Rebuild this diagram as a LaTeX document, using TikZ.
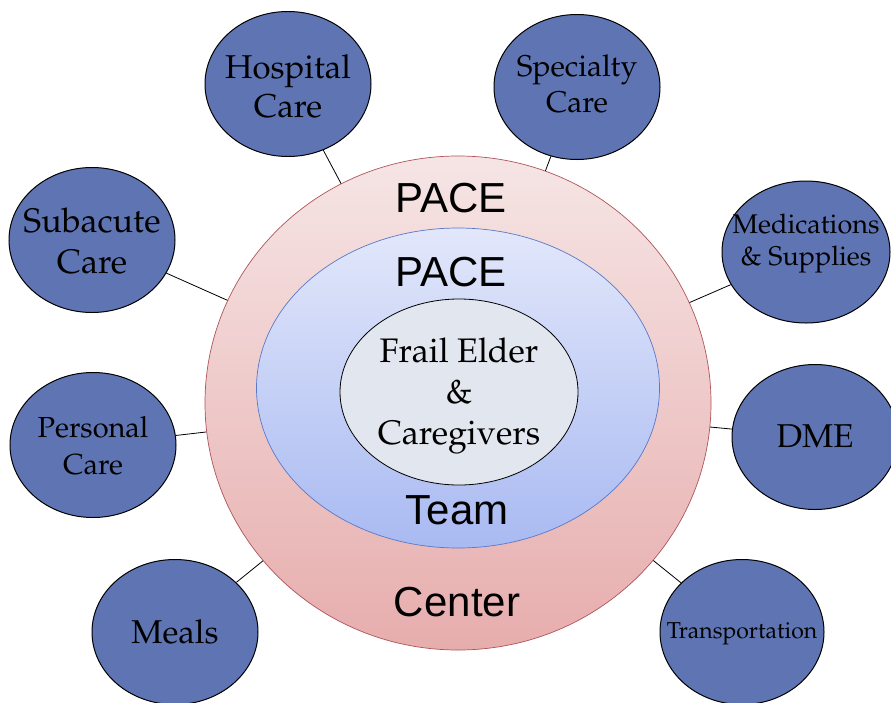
\documentclass[tikz,border=0pt]{standalone}
\usepackage[T1]{fontenc}
\usepackage{fontspec}
\setsansfont{Liberation Sans}
\usetikzlibrary{shapes.geometric}
\newcommand\palf{\fontencoding{T1}\fontfamily{ppl}\selectfont}
\definecolor{satfill}{HTML}{5F75B3}
\definecolor{outertop}{HTML}{F6E5E5}
\definecolor{outerbot}{HTML}{E7ADAD}
\definecolor{outerborder}{HTML}{B0545A}
\definecolor{midtop}{HTML}{E2E7FA}
\definecolor{midbot}{HTML}{A9BAF2}
\definecolor{blueborder}{HTML}{5A78C8}
\definecolor{innerfill}{HTML}{E2E6EE}
\pgfdeclareradialshading{vignette}{\pgfpoint{0bp}{0bp}}{color(0bp)=(white); color(40bp)=(white); color(71bp)=(black!7)}
\tikzset{
  sat/.style={ellipse, draw=black, line width=1pt, fill=satfill, inner sep=0pt,
    minimum width=166pt, minimum height=145pt},
  sattext/.style={align=center, text=black, inner sep=0pt},
  link/.style={draw=black, line width=0.8pt},
  bigsans/.style={font=\sffamily\fontsize{42}{46}\selectfont, inner sep=0pt}
}
\begin{document}
\begin{tikzpicture}[x=1pt,y=-1pt]
\useasboundingbox (0,0) rectangle (891,702);
\shade[shading=vignette] (0,0) rectangle (891,702);
% rings
\node[ellipse, minimum width=506pt, minimum height=494pt, inner sep=0pt,
  top color=outertop, bottom color=outerbot,
  draw=outerborder, line width=0.7pt] (outer) at (458,403) {};
\node[ellipse, minimum width=403pt, minimum height=320pt, inner sep=0pt,
  top color=midtop, bottom color=midbot,
  draw=blueborder, line width=0.7pt] (mid) at (458,388) {};
\node[ellipse, minimum width=238pt, minimum height=186pt, inner sep=0pt,
  fill=innerfill, draw=black, line width=0.8pt] (inner) at (459,392) {};
\node[sattext, font=\palf\fontsize{34}{41}\selectfont] (innertext) at (459,396)
  {Frail Elder\\\&\\Caregivers};
\node[bigsans] (pace1) at (451,198) {PACE};
\node[bigsans] (pace2) at (451,272) {PACE};
\node[bigsans] (team) at (457,510) {Team};
\node[bigsans] (center) at (457,602) {Center};
% satellites
\node[sat] (hosp) at (288,84) {};
\node[sattext, font=\palf\fontsize{33}{39}\selectfont] (hospt) at (288,86) {Hospital\\Care};
\node[sat] (spec) at (577,87) {};
\node[sattext, font=\palf\fontsize{30}{36}\selectfont] (spect) at (577,84) {Specialty\\Care};
\node[sat] (sub) at (92,240) {};
\node[sattext, font=\palf\fontsize{34}{41}\selectfont] (subt) at (92,241) {Subacute\\Care};
\node[sat, minimum width=168pt, minimum height=142pt] (med) at (806,252) {};
\node[sattext, font=\palf\fontsize{27}{32}\selectfont] (medt) at (806,244) {Medications\\\& Supplies};
\node[sat] (pers) at (93,445) {};
\node[sattext, font=\palf\fontsize{29}{37}\selectfont] (perst) at (93,446) {Personal\\Care};
\node[sat] (dme) at (815,437) {};
\node[sattext, font=\palf\fontsize{33}{38}\selectfont] (dmet) at (815,436) {DME};
\node[sat] (meals) at (175,632) {};
\node[sattext, font=\palf\fontsize{33}{38}\selectfont] (mealst) at (175,632) {Meals};
\node[sat, minimum width=164pt] (trans) at (742,632) {};
\node[sattext, font=\palf\fontsize{23}{26}\selectfont] (transt) at (742,634) {Transportation};
% connectors
\foreach \s in {hosp,spec,sub,med,pers,dme,meals,trans}
  \draw[link] (\s) -- (outer);
\end{tikzpicture}
\end{document}
